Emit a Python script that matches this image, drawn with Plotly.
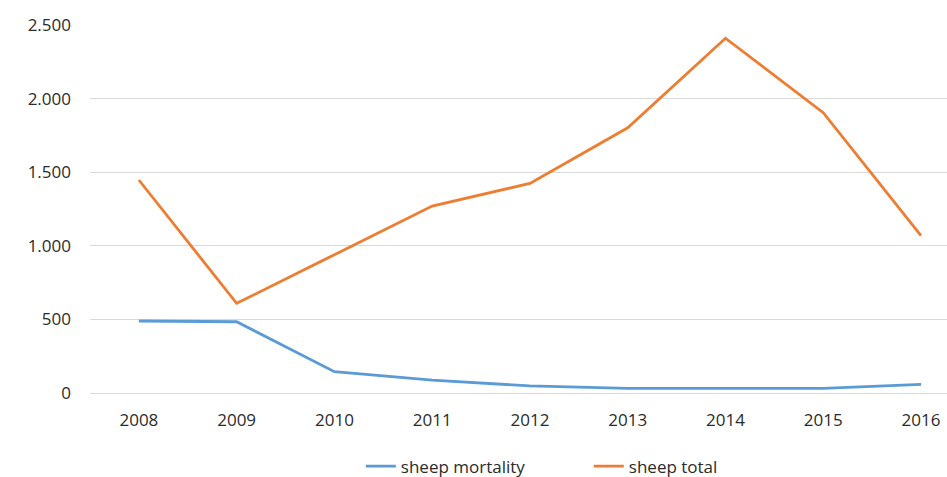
import plotly.graph_objects as go

years = ["2008", "2009", "2010", "2011", "2012", "2013", "2014", "2015", "2016"]
sheep_mortality = [489, 484, 145, 88, 48, 32, 32, 32, 59]
sheep_total = [1447, 609, 940, 1270, 1424, 1802, 2410, 1904, 1069]
y_ticks = [0, 500, 1000, 1500, 2000, 2500]

fig = go.Figure()
fig.add_trace(go.Scatter(x=years, y=sheep_mortality, mode="lines", name="sheep mortality",
                         line=dict(color="#5B9BD5", width=2.8)))
fig.add_trace(go.Scatter(x=years, y=sheep_total, mode="lines", name="sheep total",
                         line=dict(color="#ED7D31", width=2.8)))

font_family = "Open Sans, Liberation Sans, sans-serif"
text_color = "#2b2b2b"
fig.update_layout(
    width=947, height=477,
    margin=dict(l=90, r=0, t=25, b=84, autoexpand=False),
    paper_bgcolor="white", plot_bgcolor="white",
    separators=",.",
    font=dict(family=font_family, size=17, color=text_color),
    showlegend=True,
    legend=dict(orientation="h", x=0.316, xanchor="left", y=-0.2, yanchor="middle",
                font=dict(size=17, color=text_color), itemwidth=30, entrywidth=183,
                tracegroupgap=0, bgcolor="rgba(0,0,0,0)"),
    xaxis=dict(type="category", range=[-0.5, 8.266], showgrid=False, showline=False,
               ticks="", tickfont=dict(size=17, color=text_color), ticklabelstandoff=15,
               automargin=False),
    yaxis=dict(range=[0, 2500], tickvals=y_ticks, tickformat=",d", showgrid=True,
               gridcolor="#d9d9d9", gridwidth=1, zeroline=True, zerolinecolor="#d9d9d9",
               zerolinewidth=1, showline=False, ticks="",
               tickfont=dict(size=17, color=text_color), ticklabelstandoff=18,
               automargin=False),
)

fig.write_html("out.html")
